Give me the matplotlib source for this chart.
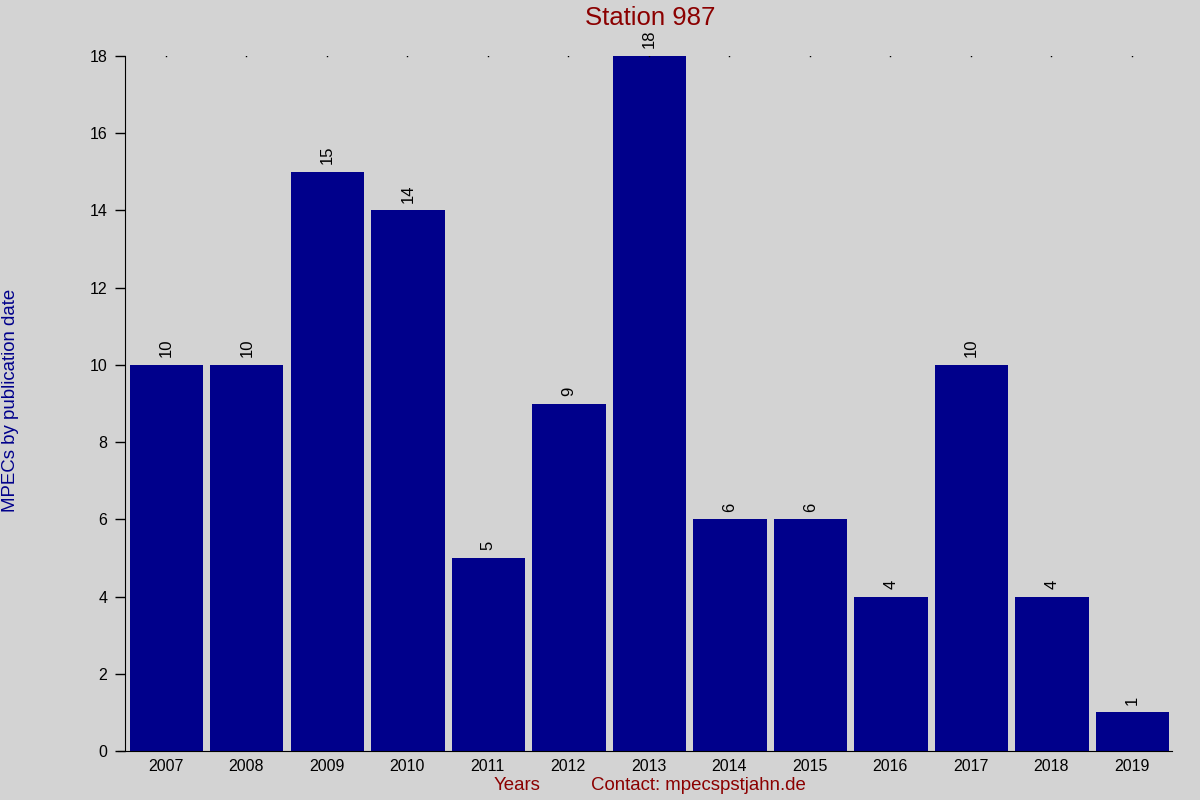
import matplotlib.pyplot as plt
import numpy as np

plt.rcParams['font.family'] = ['Liberation Sans', 'DejaVu Sans']

# data
years = ['2007', '2008', '2009', '2010', '2011', '2012', '2013',
         '2014', '2015', '2016', '2017', '2018', '2019']
mpecs = [10, 10, 15, 14, 5, 9, 18, 6, 6, 4, 10, 4, 1]

bg = '#d3d3d3'
fig = plt.figure(figsize=(12, 8), dpi=100, facecolor=bg)
ax = fig.add_axes([118 / 1200, 49 / 800, 1054 / 1200, 695 / 800])
ax.set_facecolor(bg)

x = np.arange(len(years))
ax.bar(x + 0.01, mpecs, width=0.91, color='#00008b')

# values above bars
for xi, v in zip(x, mpecs):
    ax.text(xi + 0.01, v + 0.2, str(v), rotation=90, ha='center', va='bottom',
            fontsize=12, color='black')

# small dots along the top
ymax = max(mpecs)
ax.plot(x, [ymax] * len(x), 's', color='black', markersize=1.0,
        markeredgewidth=0)

ax.set_xlim(-0.59, len(years) - 0.5)
ax.set_ylim(0, ymax)
ax.set_xticks(x)
ax.set_xticklabels(years, fontsize=11.5)
ax.set_yticks(np.arange(0, ymax + 1, 2))
ax.tick_params(axis='y', labelsize=11.5, length=7, width=1, direction='out', pad=6)
ax.tick_params(axis='x', length=0, pad=6)

for s in ['top', 'right']:
    ax.spines[s].set_visible(False)
ax.spines['left'].set_position(('data', -0.5))

fig.text(0.5417, 0.977, 'Station 987', ha='center', va='center',
         fontsize=18.5, color='#8b0000')
fig.text(11 / 1200, 0.5, 'MPECs by publication date', rotation=90,
         ha='center', va='center', fontsize=13.4, color='#00008b')
fig.text(517 / 1200, 14 / 800, 'Years', ha='center', va='center',
         fontsize=13.4, color='#8b0000')
fig.text(591 / 1200, 14 / 800, 'Contact: mpecspstjahn.de', ha='left', va='center',
         fontsize=13.4, color='#8b0000')

fig.savefig('out.png', dpi=100, facecolor=bg)
